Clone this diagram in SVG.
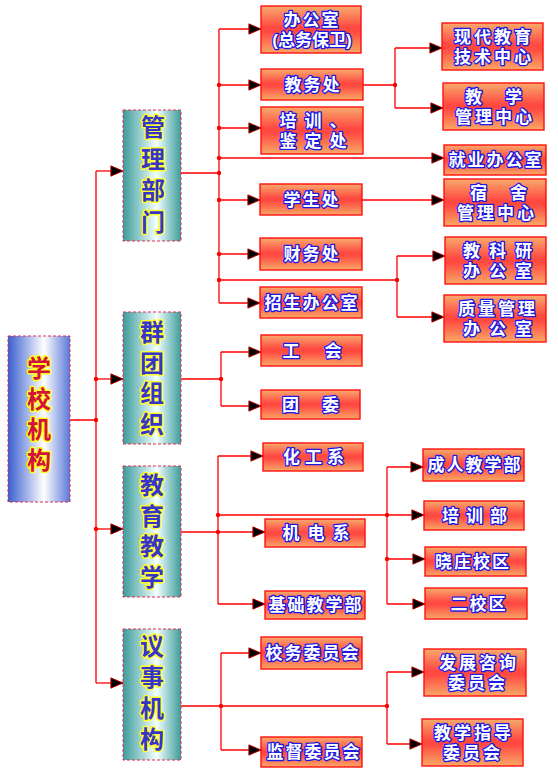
<svg xmlns="http://www.w3.org/2000/svg" width="558" height="777" viewBox="0 0 558 777">
<style>
.bg{fill:#ffffff}
.ob{fill:url(#og);stroke:#ff1010;stroke-width:1.4}
.sb{fill:url(#tg);stroke:#e03050;stroke-width:1;stroke-dasharray:3 2}
.rb{fill:url(#bg);stroke:#e03050;stroke-width:1;stroke-dasharray:3 2}
.t{font-family:"Liberation Sans","Noto Sans CJK SC","Noto Sans CJK TC",sans-serif;font-size:17px;font-weight:bold;fill:#ffffff;stroke:#1a1ae0;stroke-width:2.6;paint-order:stroke;stroke-linejoin:round;text-anchor:middle;letter-spacing:2px}
.v{font-family:"Liberation Sans","Noto Sans CJK SC","Noto Sans CJK TC",sans-serif;font-size:24px;font-weight:bold;fill:#3535c8;stroke:#ffff30;stroke-width:3;paint-order:stroke;stroke-linejoin:round;text-anchor:middle}
.vr{fill:#d4103c;stroke:#ffff20}
.ln{fill:none;stroke:#ff0000;stroke-width:1.3}
.ar{marker-end:url(#arr)}
.dot{fill:#ff0000}
</style>
<defs>
<linearGradient id="og" x1="0" y1="0" x2="0" y2="1">
<stop offset="0" stop-color="#f8aa6c"/>
<stop offset="0.45" stop-color="#ff4a42"/>
<stop offset="0.55" stop-color="#ff4a42"/>
<stop offset="1" stop-color="#f8a866"/>
</linearGradient>
<linearGradient id="tg" x1="0" y1="0" x2="1" y2="0">
<stop offset="0" stop-color="#3c9c9c"/>
<stop offset="0.58" stop-color="#f4ffff"/>
<stop offset="1" stop-color="#3c9c9c"/>
</linearGradient>
<linearGradient id="bg" x1="0" y1="0" x2="1" y2="0">
<stop offset="0" stop-color="#3a5ed0"/>
<stop offset="0.58" stop-color="#ffffff"/>
<stop offset="1" stop-color="#5a78d8"/>
</linearGradient>
<marker id="arr" markerUnits="userSpaceOnUse" markerWidth="14" markerHeight="13" refX="13" refY="6" orient="auto" viewBox="-1 -0.5 15 13">
<path d="M0,0.5 L13,6 L0,11.5 Z" fill="#000" stroke="#c00000" stroke-width="1"/>
</marker>
</defs>
<rect class="bg" x="0" y="0" width="558" height="777"/>

<g id="connectors">
<path class="ln" d="M96,171 V683 M70,420 H96"/>
<path class="ln ar" d="M96,171 H123"/>
<path class="ln ar" d="M96,379 H123"/>
<path class="ln ar" d="M96,529 H123"/>
<path class="ln ar" d="M96,683 H123"/>

<path class="ln" d="M181,173 H219 M219,29 V303"/>
<path class="ln ar" d="M219,29 H261"/>
<path class="ln ar" d="M219,85 H261"/>
<path class="ln ar" d="M219,128 H261"/>
<path class="ln ar" d="M219,158 H444"/>
<path class="ln ar" d="M219,200 H260"/>
<path class="ln ar" d="M219,254 H260"/>
<path class="ln ar" d="M219,303 H260"/>
<path class="ln" d="M219,280 H397 M397,256 V317 M363,85 H395 M395,48 V108"/>
<path class="ln ar" d="M395,48 H442"/>
<path class="ln ar" d="M395,108 H443"/>
<path class="ln ar" d="M362,200 H444"/>
<path class="ln ar" d="M397,256 H445"/>
<path class="ln ar" d="M397,317 H444"/>

<path class="ln" d="M181,379 H221 M221,352 V406"/>
<path class="ln ar" d="M221,352 H261"/>
<path class="ln ar" d="M221,406 H261"/>

<path class="ln" d="M181,532 H218 M218,456 V604 M387,467 V604"/>
<path class="ln ar" d="M218,456 H263"/>
<path class="ln ar" d="M218,532 H265"/>
<path class="ln ar" d="M218,604 H265"/>
<path class="ln ar" d="M218,515 H424"/>
<path class="ln ar" d="M387,467 H423"/>
<path class="ln ar" d="M387,559 H425"/>
<path class="ln ar" d="M387,604 H425"/>

<path class="ln" d="M181,706 H387 M221,653 V750 M387,672 V744"/>
<path class="ln ar" d="M221,653 H261"/>
<path class="ln ar" d="M221,750 H261"/>
<path class="ln ar" d="M387,672 H424"/>
<path class="ln ar" d="M387,744 H422"/>

<g class="dot">
<circle cx="96" cy="379" r="2.2"/><circle cx="96" cy="420" r="2.2"/><circle cx="96" cy="529" r="2.2"/>
<circle cx="219" cy="85" r="2.2"/><circle cx="219" cy="128" r="2.2"/><circle cx="219" cy="158" r="2.2"/>
<circle cx="219" cy="173" r="2.2"/><circle cx="219" cy="200" r="2.2"/><circle cx="219" cy="254" r="2.2"/>
<circle cx="219" cy="280" r="2.2"/><circle cx="395" cy="85" r="2.2"/><circle cx="397" cy="280" r="2.2"/>
<circle cx="221" cy="379" r="2.2"/>
<circle cx="218" cy="515" r="2.2"/><circle cx="218" cy="532" r="2.2"/><circle cx="387" cy="515" r="2.2"/><circle cx="387" cy="559" r="2.2"/>
<circle cx="221" cy="706" r="2.2"/><circle cx="387" cy="706" r="2.2"/>
</g>
</g>

<g id="n-root"><rect class="rb" x="8" y="336" width="62" height="166"/>
<text class="v vr" x="39" y="377">学<tspan x="39" dy="30.7">校</tspan><tspan x="39" dy="30.7">机</tspan><tspan x="39" dy="30.7">构</tspan></text></g>

<g id="n-guanli"><rect class="sb" x="123" y="110" width="58" height="131"/>
<text class="v" x="153" y="136">管<tspan x="153" dy="31.5">理</tspan><tspan x="153" dy="31.5">部</tspan><tspan x="153" dy="31.5">门</tspan></text></g>
<g id="n-quntuan"><rect class="sb" x="123" y="312" width="58" height="132"/>
<text class="v" x="152" y="341">群<tspan x="152" dy="30.5">团</tspan><tspan x="152" dy="30.5">组</tspan><tspan x="152" dy="30.5">织</tspan></text></g>
<g id="n-jiaoyu"><rect class="sb" x="123" y="466" width="58" height="131"/>
<text class="v" x="152" y="494">教<tspan x="152" dy="30.5">育</tspan><tspan x="152" dy="30.5">教</tspan><tspan x="152" dy="30.5">学</tspan></text></g>
<g id="n-yishi"><rect class="sb" x="123" y="629" width="58" height="131"/>
<text class="v" x="152" y="655">议<tspan x="152" dy="31">事</tspan><tspan x="152" dy="31">机</tspan><tspan x="152" dy="31">构</tspan></text></g>

<g id="n-bangong"><rect class="ob" x="261" y="6" width="100" height="47"/>
<text class="t" x="312" y="26">办公室</text><text class="t" x="312" y="46" style="letter-spacing:0px">(总务保卫)</text></g>
<g id="n-jiaowu"><rect class="ob" x="261" y="69" width="102" height="31"/><text class="t" x="313" y="91">教务处</text></g>
<g id="n-peixunjd"><rect class="ob" x="261" y="107" width="102" height="47"/>
<text class="t" x="317" y="127" style="letter-spacing:8px">培训、</text><text class="t" x="317" y="147" style="letter-spacing:8px">鉴定处</text></g>
<g id="n-jiuye"><rect class="ob" x="444" y="145" width="102" height="30"/><text class="t" x="496" y="166">就业办公室</text></g>
<g id="n-xuesheng"><rect class="ob" x="260" y="184" width="102" height="31"/><text class="t" x="312" y="206">学生处</text></g>
<g id="n-caiwu"><rect class="ob" x="260" y="238" width="102" height="32"/><text class="t" x="312" y="260">财务处</text></g>
<g id="n-zhaosheng"><rect class="ob" x="260" y="287" width="102" height="31"/><text class="t" x="312" y="309">招生办公室</text></g>

<g id="n-xiandai"><rect class="ob" x="442" y="23" width="101" height="47"/>
<text class="t" x="494" y="43" style="letter-spacing:3px">现代教育</text><text class="t" x="494" y="63" style="letter-spacing:3px">技术中心</text></g>
<g id="n-jiaoxueguanli"><rect class="ob" x="443" y="83" width="101" height="47"/>
<text class="t" x="495" y="103" style="letter-spacing:3px">教　学</text><text class="t" x="495" y="123" style="letter-spacing:3px">管理中心</text></g>
<g id="n-sushe"><rect class="ob" x="444" y="179" width="102" height="47"/>
<text class="t" x="500" y="199" style="letter-spacing:3px">宿　舍</text><text class="t" x="497" y="219" style="letter-spacing:3px">管理中心</text></g>
<g id="n-jiaokeyan"><rect class="ob" x="445" y="237" width="101" height="47"/>
<text class="t" x="502" y="257" style="letter-spacing:9px">教科研</text><text class="t" x="502" y="277" style="letter-spacing:9px">办公室</text></g>
<g id="n-zhiliang"><rect class="ob" x="444" y="295" width="102" height="47"/>
<text class="t" x="498" y="315" style="letter-spacing:3px">质量管理</text><text class="t" x="502" y="335" style="letter-spacing:9px">办公室</text></g>

<g id="n-gonghui"><rect class="ob" x="261" y="335" width="101" height="31"/><text class="t" x="314" y="357" style="letter-spacing:4px">工　会</text></g>
<g id="n-tuanwei"><rect class="ob" x="261" y="390" width="99" height="29"/><text class="t" x="312" y="411" style="letter-spacing:3px">团　委</text></g>

<g id="n-huagong"><rect class="ob" x="263" y="443" width="100" height="28"/><text class="t" x="316" y="463" style="letter-spacing:5px">化工系</text></g>
<g id="n-jidian"><rect class="ob" x="265" y="519" width="100" height="28"/><text class="t" x="320" y="539" style="letter-spacing:8px">机电系</text></g>
<g id="n-jichu"><rect class="ob" x="265" y="591" width="100" height="28"/><text class="t" x="316" y="611">基础教学部</text></g>
<g id="n-chengren"><rect class="ob" x="423" y="449" width="101" height="32"/><text class="t" x="475" y="471">成人教学部</text></g>
<g id="n-peixun"><rect class="ob" x="424" y="501" width="100" height="29"/><text class="t" x="478" y="522" style="letter-spacing:7px">培训部</text></g>
<g id="n-xiaozhuang"><rect class="ob" x="425" y="547" width="101" height="29"/><text class="t" x="473" y="568">晓庄校区</text></g>
<g id="n-erxiao"><rect class="ob" x="425" y="588" width="102" height="31"/><text class="t" x="479" y="610">二校区</text></g>

<g id="n-xiaowu"><rect class="ob" x="261" y="637" width="101" height="32"/><text class="t" x="313" y="659">校务委员会</text></g>
<g id="n-jiandu"><rect class="ob" x="261" y="737" width="101" height="30"/><text class="t" x="314" y="758">监督委员会</text></g>
<g id="n-fazhan"><rect class="ob" x="424" y="649" width="102" height="47"/>
<text class="t" x="479" y="669" style="letter-spacing:3px">发展咨询</text><text class="t" x="478" y="689" style="letter-spacing:3px">委员会</text></g>
<g id="n-jiaoxuezd"><rect class="ob" x="422" y="719" width="101" height="47"/>
<text class="t" x="474" y="739" style="letter-spacing:3px">教学指导</text><text class="t" x="473" y="759" style="letter-spacing:3px">委员会</text></g>
</svg>
